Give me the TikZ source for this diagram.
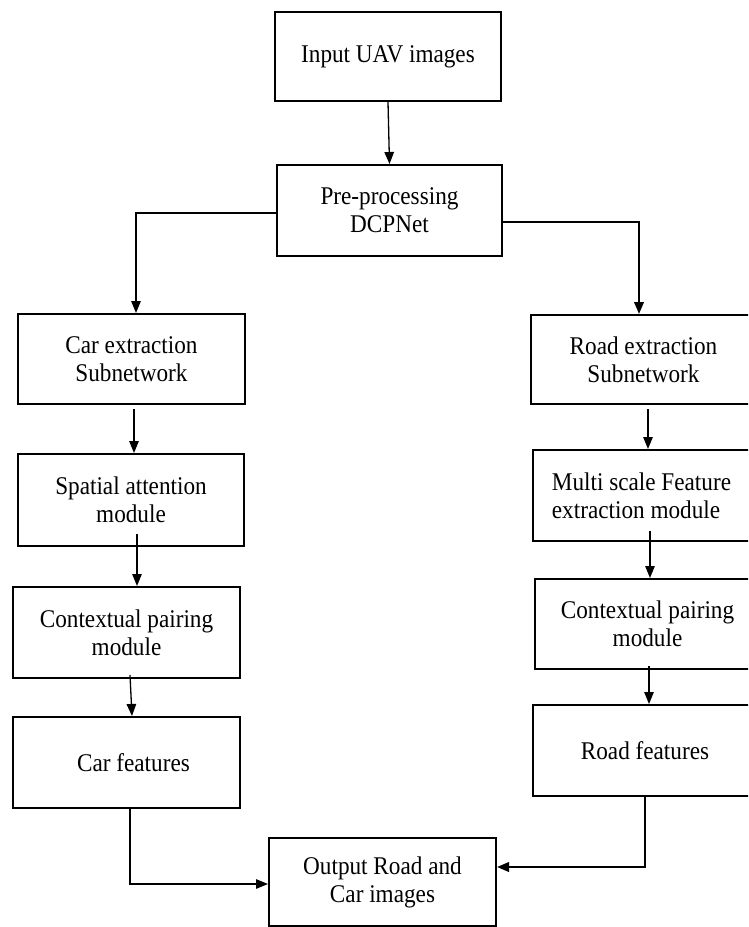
\documentclass[tikz,border=0pt]{standalone}
\usepackage{fontspec}
\setmainfont{Liberation Serif}[FakeStretch=0.91]
\usetikzlibrary{arrows.meta}
\tikzset{
  box/.style={draw=black, line width=2pt, inner sep=0pt, align=center,
    font=\fontsize{25.5pt}{28pt}\selectfont},
  arr/.style={draw=black, line width=1.3pt, -{Triangle[length=12pt,width=9.5pt]}},
  thickarr/.style={arr, line width=2.2pt}
}
\begin{document}
\begin{tikzpicture}[x=1pt,y=-1pt]
\useasboundingbox (0,0) rectangle (748,927);
\clip (0,0) rectangle (748,927);
\fill[white] (0,0) rectangle (748,927);
% boxes
\node[box, minimum width=226pt, minimum height=89pt] (in) at (388,56.5) {Input UAV images};
\node[box, minimum width=225pt, minimum height=91pt] (pre) at (389.5,210.5) {Pre-processing\\DCPNet};
\node[box, minimum width=227pt, minimum height=90pt] (car) at (131.5,359) {Car extraction\\Subnetwork};
\node[box, minimum width=229pt, minimum height=89pt] (road) at (645.5,359.5) {\hspace*{-4pt}Road extraction\\\hspace*{-4pt}Subnetwork};
\node[box, minimum width=226pt, minimum height=92pt] (spa) at (131,500) {Spatial attention\\module};
\node[box, minimum width=227pt, minimum height=91pt, align=left] (multi) at (646.5,495.5) {\hspace*{-10pt}Multi scale Feature\\\hspace*{-10pt}extraction module};
\node[box, minimum width=227pt, minimum height=91pt] (ctxl) at (126.5,632.5) {Contextual pairing\\module};
\node[box, minimum width=225pt, minimum height=90pt] (ctxr) at (647.5,624) {Contextual pairing\\module};
\node[box, minimum width=227pt, minimum height=91pt] (cf) at (126.5,762.5) {\hspace*{14pt}Car features};
\node[box, minimum width=227pt, minimum height=91pt] (rf) at (646.5,750.5) {\hspace*{-3pt}Road features};
\node[box, minimum width=227pt, minimum height=88pt] (out) at (382.5,882) {Output Road and\\Car images};
% connectors
\draw[arr] (in.south) -- (pre.north);
\draw[arr] ([yshift=-2.5pt]pre.west) -| ([xshift=4.5pt]car.north);
\draw[thickarr] ([yshift=-11.5pt]pre.east) -| ([xshift=-6.5pt]road.north);
\draw[arr] ([xshift=2.5pt,yshift=-4pt]car.south) -- ([xshift=3pt]spa.north);
\draw[arr] ([xshift=2.5pt,yshift=-4pt]road.south) -- ([xshift=1.5pt]multi.north);
\draw[arr] ([xshift=6pt,yshift=13pt]spa.south) -- ([xshift=10.5pt]ctxl.north);
\draw[arr] ([xshift=3.5pt,yshift=11pt]multi.south) -- ([xshift=2.5pt]ctxr.north);
\draw[arr] ([xshift=3.5pt,yshift=4pt]ctxl.south) -- ([xshift=5.5pt]cf.north);
\draw[arr] ([xshift=1.5pt,yshift=4pt]ctxr.south) -- ([xshift=2.5pt]rf.north);
\draw[arr] ([xshift=3.5pt]cf.south) |- ([yshift=-2pt]out.west);
\draw[thickarr] ([xshift=-1.5pt]rf.south) |- ([yshift=15pt]out.east);
\end{tikzpicture}
\end{document}
